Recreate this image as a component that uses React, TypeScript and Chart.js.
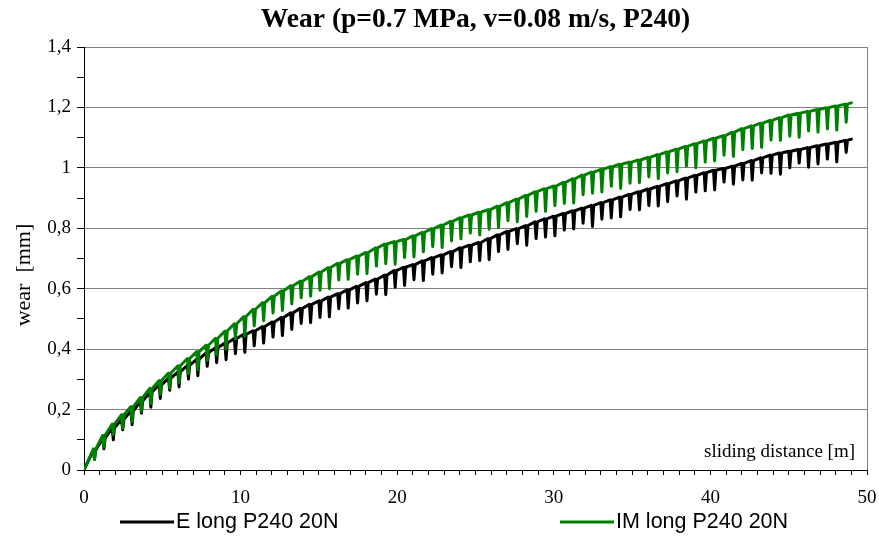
import { useEffect, useRef } from "react";
import { Chart, registerables } from "chart.js";

Chart.register(...registerables);

const chartTitle = "Wear (p=0.7 MPa, v=0.08 m/s, P240)";
const yAxisTitle = "wear  [mm]";
const xAxisTitle = "sliding distance [m]";
const seriesNames = ["E long P240 20N", "IM long P240 20N"];
const seriesColors = ["#000000", "#008000"];

// sliding distance [m] at each cycle
const distance = [
  0, 0.6, 1.2, 1.8, 2.4, 3, 3.6, 4.2, 4.8, 5.4,
  6, 6.6, 7.2, 7.8, 8.4, 9, 9.6, 10.2, 10.8, 11.4,
  12, 12.6, 13.2, 13.8, 14.4, 15, 15.6, 16.2, 16.8, 17.4,
  18, 18.6, 19.2, 19.8, 20.4, 21, 21.6, 22.2, 22.8, 23.4,
  24, 24.6, 25.2, 25.8, 26.4, 27, 27.6, 28.2, 28.8, 29.4,
  30, 30.6, 31.2, 31.8, 32.4, 33, 33.6, 34.2, 34.8, 35.4,
  36, 36.6, 37.2, 37.8, 38.4, 39, 39.6, 40.2, 40.8, 41.4,
  42, 42.6, 43.2, 43.8, 44.4, 45, 45.6, 46.2, 46.8, 47.4,
  48, 48.6, 49,
];

// E long P240 20N: wear at cycle top and depth of the dip [mm]
const eTop = [
  0, 0.065, 0.105, 0.14, 0.168, 0.195, 0.228, 0.258, 0.282, 0.304,
  0.325, 0.346, 0.367, 0.388, 0.405, 0.42, 0.435, 0.449, 0.461, 0.475,
  0.49, 0.505, 0.52, 0.535, 0.548, 0.56, 0.572, 0.584, 0.596, 0.608,
  0.62, 0.632, 0.645, 0.66, 0.671, 0.68, 0.692, 0.703, 0.712, 0.723,
  0.735, 0.744, 0.753, 0.766, 0.778, 0.79, 0.799, 0.809, 0.821, 0.831,
  0.84, 0.849, 0.858, 0.867, 0.876, 0.885, 0.894, 0.903, 0.912, 0.921,
  0.93, 0.939, 0.948, 0.957, 0.966, 0.975, 0.984, 0.992, 0.998, 1.006,
  1.015, 1.024, 1.033, 1.042, 1.049, 1.055, 1.061, 1.067, 1.073, 1.079,
  1.085, 1.091, 1.095,
];
const eDip = [
  0, 0.03, 0.035, 0.04, 0.035, 0.045, 0.04, 0.05, 0.045, 0.04,
  0.05, 0.045, 0.055, 0.045, 0.05, 0.055, 0.05, 0.06, 0.05, 0.055,
  0.05, 0.06, 0.055, 0.05, 0.06, 0.055, 0.065, 0.05, 0.06, 0.055,
  0.06, 0.05, 0.065, 0.055, 0.06, 0.05, 0.065, 0.055, 0.06, 0.05,
  0.065, 0.055, 0.06, 0.07, 0.055, 0.06, 0.05, 0.065, 0.055, 0.06,
  0.065, 0.055, 0.06, 0.05, 0.07, 0.055, 0.06, 0.065, 0.05, 0.06,
  0.055, 0.065, 0.06, 0.05, 0.07, 0.055, 0.06, 0.065, 0.045, 0.06,
  0.055, 0.065, 0.05, 0.06, 0.07, 0.055, 0.045, 0.065, 0.06, 0.05,
  0.065, 0.04, 0,
];

// IM long P240 20N
const imTop = [
  0, 0.07, 0.115, 0.152, 0.183, 0.21, 0.24, 0.27, 0.296, 0.321,
  0.345, 0.369, 0.392, 0.413, 0.436, 0.46, 0.484, 0.508, 0.532, 0.554,
  0.575, 0.593, 0.61, 0.625, 0.64, 0.655, 0.67, 0.684, 0.696, 0.708,
  0.72, 0.735, 0.748, 0.756, 0.763, 0.775, 0.787, 0.799, 0.811, 0.823,
  0.835, 0.844, 0.853, 0.862, 0.873, 0.885, 0.897, 0.909, 0.921, 0.931,
  0.94, 0.952, 0.964, 0.976, 0.986, 0.995, 1.004, 1.012, 1.019, 1.026,
  1.035, 1.044, 1.053, 1.062, 1.071, 1.08, 1.089, 1.098, 1.107, 1.118,
  1.13, 1.139, 1.148, 1.157, 1.166, 1.175, 1.181, 1.187, 1.193, 1.199,
  1.205, 1.211, 1.215,
];
const imDip = [
  0, 0.035, 0.04, 0.035, 0.045, 0.05, 0.045, 0.05, 0.045, 0.05,
  0.055, 0.05, 0.06, 0.05, 0.055, 0.06, 0.05, 0.065, 0.055, 0.06,
  0.055, 0.065, 0.06, 0.055, 0.065, 0.06, 0.07, 0.055, 0.065, 0.06,
  0.07, 0.06, 0.065, 0.075, 0.06, 0.07, 0.065, 0.06, 0.075, 0.065,
  0.07, 0.06, 0.075, 0.065, 0.07, 0.06, 0.075, 0.07, 0.065, 0.075,
  0.065, 0.07, 0.08, 0.065, 0.07, 0.075, 0.065, 0.08, 0.07, 0.075,
  0.065, 0.08, 0.07, 0.075, 0.065, 0.08, 0.07, 0.075, 0.065, 0.08,
  0.07, 0.075, 0.08, 0.065, 0.075, 0.07, 0.08, 0.065, 0.075, 0.07,
  0.08, 0.06, 0,
];

function buildPoints(top: number[], dip: number[]) {
  const pts: { x: number; y: number }[] = [];
  for (let i = 0; i < distance.length; i++) {
    pts.push({ x: distance[i], y: top[i] });
    if (dip[i] > 0) {
      pts.push({ x: distance[i] + 0.07, y: top[i] - dip[i] });
      pts.push({ x: distance[i] + 0.15, y: top[i] });
    }
  }
  return pts;
}

const SERIF = "'Liberation Serif', 'Times New Roman', serif";
const SANS = "'Liberation Sans', Arial, sans-serif";

const decorPlugin = {
  id: "decor",
  afterDraw(chart: any) {
    const ctx = chart.ctx as CanvasRenderingContext2D;
    const area = chart.chartArea;
    ctx.save();
    // title
    ctx.fillStyle = "#000";
    ctx.font = `bold 27.5px ${SERIF}`;
    ctx.textAlign = "center";
    ctx.textBaseline = "middle";
    ctx.fillText(chartTitle, (area.left + area.right) / 2, 20);
    // y title
    ctx.save();
    ctx.translate(24, 275);
    ctx.rotate(-Math.PI / 2);
    ctx.font = `22px ${SERIF}`;
    ctx.fillText(yAxisTitle, 0, 0);
    ctx.restore();
    // x title inside plot
    ctx.font = `19px ${SERIF}`;
    ctx.textAlign = "right";
    ctx.fillText(xAxisTitle, area.right - 12, area.bottom - 18);
    // legend
    const legendX = [120, 560];
    ctx.textAlign = "left";
    ctx.font = `21.5px ${SANS}`;
    for (let i = 0; i < 2; i++) {
      ctx.strokeStyle = seriesColors[i];
      ctx.lineWidth = 3;
      ctx.beginPath();
      ctx.moveTo(legendX[i], 522);
      ctx.lineTo(legendX[i] + 54, 522);
      ctx.stroke();
      ctx.fillStyle = "#000";
      ctx.fillText(seriesNames[i], legendX[i] + 56, 522);
    }
    ctx.restore();
  },
};

export default function App() {
  const ref = useRef<HTMLCanvasElement | null>(null);
  useEffect(() => {
    document.body.style.margin = "0";
    const canvas = ref.current!;
    const chart = new Chart(canvas, {
      type: "line",
      data: {
        datasets: [
          {
            label: seriesNames[0],
            data: buildPoints(eTop, eDip),
            borderColor: seriesColors[0],
            backgroundColor: seriesColors[0],
            borderWidth: 3,
            pointRadius: 0,
            tension: 0,
            borderJoinStyle: "round",
            borderCapStyle: "round",
            order: 1,
          },
          {
            label: seriesNames[1],
            data: buildPoints(imTop, imDip),
            borderColor: seriesColors[1],
            backgroundColor: seriesColors[1],
            borderWidth: 3,
            pointRadius: 0,
            tension: 0,
            borderJoinStyle: "round",
            borderCapStyle: "round",
            order: 0,
          },
        ],
      },
      options: {
        animation: false,
        responsive: false,
        devicePixelRatio: 1,
        parsing: false as any,
        layout: { padding: { top: 47, right: 12, left: 0, bottom: 0 } },
        plugins: {
          legend: { display: false },
          title: { display: false },
          tooltip: { enabled: false },
        },
        scales: {
          x: {
            type: "linear",
            min: 0,
            max: 50,
            afterFit: (s: any) => {
              s.height = 66;
            },
            ticks: {
              stepSize: 1,
              autoSkip: false,
              maxRotation: 0,
              padding: 2,
              color: "#000",
              font: { family: SERIF, size: 19, lineHeight: 2.2 },
              callback: (v: any) => (Math.round(v) % 10 === 0 ? String(Math.round(v)) : ""),
            },
            grid: {
              color: (c: any) => (c.tick && Math.round(c.tick.value) === 50 ? "#808080" : "rgba(0,0,0,0)"),
              tickColor: "#000",
              tickLength: 5,
              lineWidth: 1,
            },
            border: { color: "#000", width: 1 },
          },
          y: {
            type: "linear",
            min: 0,
            max: 1.4,
            afterFit: (s: any) => {
              s.width = 84;
            },
            ticks: {
              stepSize: 0.1,
              autoSkip: false,
              padding: 6,
              color: "#000",
              font: { family: SERIF, size: 19 },
              callback: (v: any) => {
                const k = Math.round(v * 10);
                return k % 2 === 0 ? String(k / 10).replace(".", ",") : "";
              },
            },
            grid: {
              color: (c: any) => {
                const k = c.tick ? Math.round(c.tick.value * 10) : 1;
                return k % 2 === 0 && k > 0 ? "#808080" : "rgba(0,0,0,0)";
              },
              tickColor: "#000",
              tickLength: 7,
              lineWidth: 1,
            },
            border: { color: "#000", width: 1 },
          },
        },
      },
      plugins: [decorPlugin],
    } as any);
    return () => chart.destroy();
  }, []);
  return (
    <div style={{ position: "absolute", left: 0, top: 0, width: 879, height: 536 }}>
      <canvas ref={ref} width={879} height={536} style={{ width: 879, height: 536, display: "block" }} />
    </div>
  );
}
